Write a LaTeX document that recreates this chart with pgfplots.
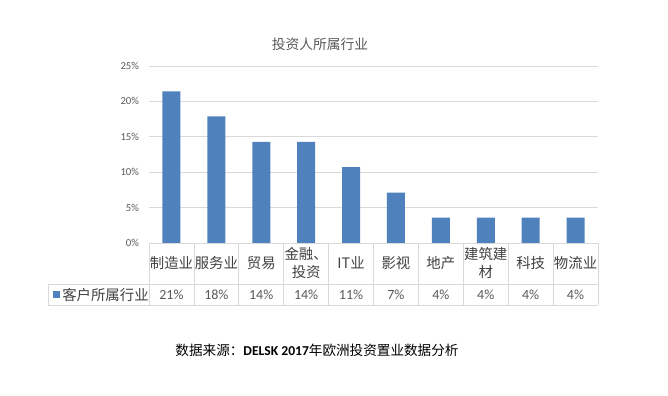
\documentclass[border=0pt]{standalone}
\usepackage{pgfplots}
\pgfplotsset{compat=1.18}
\usepackage{fontspec}
\setmainfont{Carlito}
\newfontfamily\cjk{Noto Sans CJK SC}
\definecolor{gridgray}{HTML}{D9D9D9}
\definecolor{tickgray}{HTML}{595959}
\definecolor{labgray}{HTML}{404040}
\definecolor{barblue}{HTML}{4F81BD}
\begin{document}
\begin{tikzpicture}
\path (0,0) rectangle (501pt,297pt);
\begin{axis}[
  at={(111.75pt,114.75pt)}, anchor=south west,
  scale only axis, width=336.75pt, height=132.75pt,
  xmin=-0.5, xmax=9.5, ymin=0, ymax=25,
  axis x line*=bottom, axis y line*=left,
  x axis line style={draw=none}, y axis line style={draw=none},
  major tick length=0,
  ytick={0,5,...,25},
  yticklabel={\pgfmathprintnumber{\tick}\%},
  yticklabel style={font=\fontsize{8}{9}\selectfont, text=tickgray, anchor=east, xshift=-4pt},
  /pgf/number format/assume math mode=true,
  ymajorgrids, grid style={gridgray, line width=0.6pt},
  xtick={0,...,9},
  xticklabels={制造业, 服务业, 贸易, {金融、\\投资}, IT业, 影视, 地产, {建筑建\\材}, 科技, 物流业},
  xticklabel style={font=\cjk\fontsize{10.8}{14}\selectfont, align=center, anchor=center, yshift=-15pt, text=labgray},
  clip=false,
]
\addplot[ybar, bar width=13.5pt, fill=barblue, draw=none] coordinates {
  (0,21.4) (1,17.9) (2,14.3) (3,14.3) (4,10.7) (5,7.1) (6,3.6) (7,3.6) (8,3.6) (9,3.6)};
\node[font=\fontsize{10.5}{12}\selectfont, text=tickgray] at (axis cs:0,0) [yshift=-39pt] {21\%};
\node[font=\fontsize{10.5}{12}\selectfont, text=tickgray] at (axis cs:1,0) [yshift=-39pt] {18\%};
\node[font=\fontsize{10.5}{12}\selectfont, text=tickgray] at (axis cs:2,0) [yshift=-39pt] {14\%};
\node[font=\fontsize{10.5}{12}\selectfont, text=tickgray] at (axis cs:3,0) [yshift=-39pt] {14\%};
\node[font=\fontsize{10.5}{12}\selectfont, text=tickgray] at (axis cs:4,0) [yshift=-39pt] {11\%};
\node[font=\fontsize{10.5}{12}\selectfont, text=tickgray] at (axis cs:5,0) [yshift=-39pt] {7\%};
\node[font=\fontsize{10.5}{12}\selectfont, text=tickgray] at (axis cs:6,0) [yshift=-39pt] {4\%};
\node[font=\fontsize{10.5}{12}\selectfont, text=tickgray] at (axis cs:7,0) [yshift=-39pt] {4\%};
\node[font=\fontsize{10.5}{12}\selectfont, text=tickgray] at (axis cs:8,0) [yshift=-39pt] {4\%};
\node[font=\fontsize{10.5}{12}\selectfont, text=tickgray] at (axis cs:9,0) [yshift=-39pt] {4\%};
\end{axis}
% data table grid
\foreach \k in {0,...,10} {
  \draw[gridgray, line width=0.6pt] ({111.75pt+\k*33.675pt},114.75pt) -- ++(0,-46.5pt);
}
\draw[gridgray, line width=0.6pt] (111.75pt,114.75pt) -- (448.5pt,114.75pt);
\draw[gridgray, line width=0.6pt] (36pt,84pt) -- (448.5pt,84pt);
\draw[gridgray, line width=0.6pt] (36pt,68.25pt) -- (448.5pt,68.25pt);
\draw[gridgray, line width=0.6pt] (36pt,84pt) -- (36pt,68.25pt);
% legend key
\fill[barblue] (39.8pt,73.5pt) rectangle ++(5.25pt,5.25pt);
\node[anchor=west, inner sep=0, font=\cjk\fontsize{10.8}{12}\selectfont, text=labgray] at (46.5pt,76.1pt) {客户所属行业};
% title
\node[font=\cjk\fontsize{10.3}{12}\selectfont, text=tickgray] at (240pt,264pt) {投资人所属行业};
% source
\node[font=\cjk\fontsize{10.2}{12}\selectfont, text=black] at (237.75pt,34.5pt) {数据来源：{\fontspec{Carlito}\bfseries DELSK 2017}年欧洲投资置业数据分析};
\end{tikzpicture}
\end{document}
